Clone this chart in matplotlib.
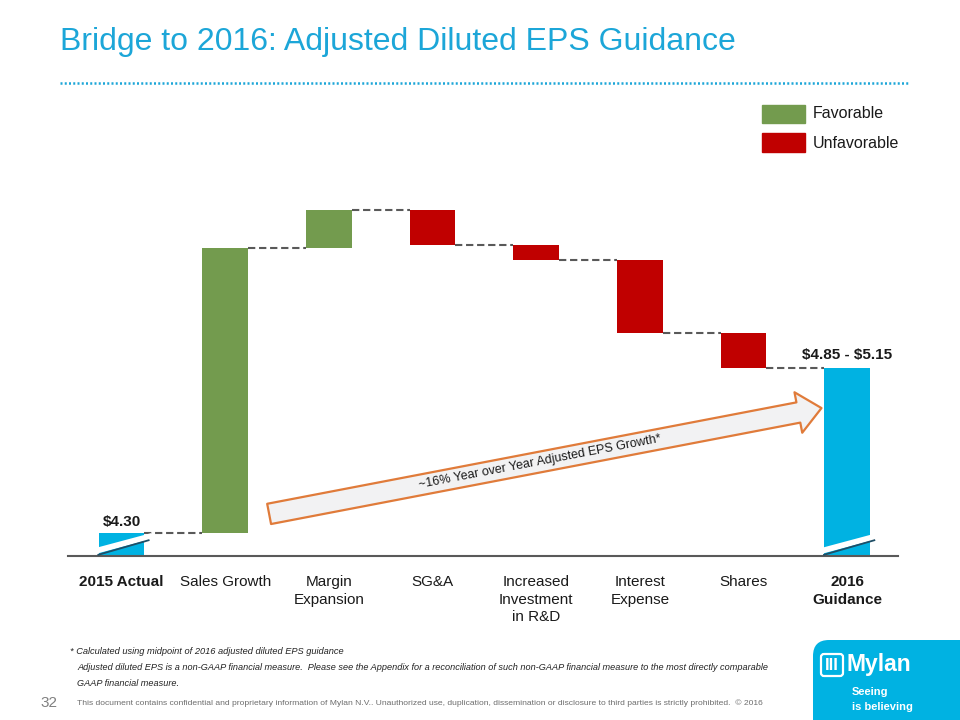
import numpy as np
import matplotlib
matplotlib.use("Agg")
import matplotlib.pyplot as plt
from matplotlib.patches import Rectangle, FancyBboxPatch, Polygon

plt.rcParams['font.family'] = ['Liberation Sans', 'DejaVu Sans']

# datos del puente
categorias = ["2015 Actual", "Sales Growth", "Margin\nExpansion", "SG&A",
              "Increased\nInvestment\nin R&D", "Interest\nExpense", "Shares",
              "2016\nGuidance"]
eps_2015 = 4.30
cambios = [1.21, 0.16, -0.15, -0.06, -0.31, -0.15]
guia_baja = 4.85
guia_alta = 5.15
etiqueta_inicio = "$4.30"
etiqueta_fin = "$4.85 - $5.15"
texto_flecha = "~16% Year over Year Adjusted EPS Growth*"
leyenda = ["Favorable", "Unfavorable"]

CIAN = "#00B2E2"
VERDE = "#739B4E"
ROJO = "#C00000"
GRIS = "#595959"
CIAN_TITULO = "#1CA6D8"
NARANJA = "#E07B3A"

eps_2016 = (guia_baja + guia_alta) / 2
niveles = eps_2015 + np.concatenate([[0], np.cumsum(cambios)])

fig = plt.figure(figsize=(9.6, 7.2), dpi=100)
ax = fig.add_axes([68/960, 164/720, 830/960, 376/720])
ymin, ymax = 4.2024, 5.7976
ax.set_ylim(ymin, ymax)
ax.set_xlim(-0.516, 7.49)

x = np.arange(len(categorias))
ancho = 0.44

ax.bar(0, eps_2015, ancho, color=CIAN, zorder=2)
for i, c in enumerate(cambios):
    ax.bar(i + 1, c, ancho, bottom=niveles[i], color=VERDE if c > 0 else ROJO, zorder=2)
ax.bar(7, eps_2016, ancho, color=CIAN, zorder=2)

# conectores punteados
for k, nivel in enumerate(niveles):
    ax.plot([k + ancho/2, k + 1 - ancho/2], [nivel, nivel], color=GRIS,
            lw=1.5, ls=(0, (3.5, 1.8)), zorder=1)

# cortes del eje en las barras de los extremos
py = (ymax - ymin) / 376
px = (7.49 + 0.516) / 830
for i in (0, 7):
    x0, x1 = i - 24*px, i + 28*px
    y0, y1 = ymin + 1*py, ymin + 16*py
    banda = Polygon([(x0 - 2*px, y0 + 1*py), (x1 + 2*px, y1 + 1*py),
                     (x1 + 2*px, y1 + 7*py), (x0 - 2*px, y0 + 7*py)],
                    closed=True, fc="white", ec="none", zorder=3, clip_on=False)
    ax.add_patch(banda)
    ax.plot([x0, x1], [y0, y1], color="#1f4e66", lw=1.3, zorder=4,
            solid_capstyle="butt", clip_on=False)

for s in ["top", "right", "left"]:
    ax.spines[s].set_visible(False)
ax.spines["bottom"].set_color(GRIS)
ax.spines["bottom"].set_linewidth(1.5)
ax.set_yticks([])
ax.set_xticks(x, categorias)
ax.tick_params(axis="x", length=0, pad=14, labelsize=11, labelcolor="#1a1a1a")
for t in ax.get_xticklabels():
    t.set_linespacing(1.28)
ax.get_xticklabels()[0].set_fontweight("bold")
ax.get_xticklabels()[-1].set_fontweight("bold")

ax.text(0, eps_2015 + 4*py, etiqueta_inicio, ha="center", va="bottom",
        fontsize=11, fontweight="bold", color="#1a1a1a", parse_math=False)
ax.text(7, eps_2016 + 6*py, etiqueta_fin, ha="center", va="bottom",
        fontsize=11, fontweight="bold", color="#1a1a1a", parse_math=False)

# flecha de crecimiento
cola = (1.424, 4.381)
punta = (6.752, 4.830)
ax.annotate("", xy=punta, xytext=cola,
            arrowprops=dict(arrowstyle="simple,head_length=1.6,head_width=2.8,tail_width=1.4",
                            mutation_scale=10.6, fc="#F2F2F3", ec=NARANJA, lw=1.6,
                            shrinkA=0, shrinkB=0), zorder=5)
p1 = ax.transData.transform(cola)
p2 = ax.transData.transform(punta)
angulo = np.degrees(np.arctan2(p2[1] - p1[1], p2[0] - p1[0]))
tm = 0.49
ax.text(cola[0] + tm*(punta[0] - cola[0]), cola[1] + tm*(punta[1] - cola[1]),
        texto_flecha, rotation=angulo, rotation_mode="anchor", ha="center",
        va="center", fontsize=9, color="#1a1a1a", zorder=6)

# capa decorativa en pixeles
deco = fig.add_axes([0, 0, 1, 1])
deco.set_xlim(0, 960)
deco.set_ylim(720, 0)
deco.axis("off")

fig.text(60/960, 1 - 42/720, "Bridge to 2016: Adjusted Diluted EPS Guidance",
         fontsize=23, color=CIAN_TITULO, va="center", ha="left")
deco.plot([60, 908], [83, 83], color=CIAN_TITULO, lw=1.8, ls=(0, (0.8, 0.9)))

deco.add_patch(Rectangle((762, 105), 43, 18, color=VERDE))
deco.add_patch(Rectangle((762, 133), 43, 19, color=ROJO))
deco.text(813, 114, leyenda[0], fontsize=11.5, va="center", color="#1a1a1a")
deco.text(813, 143, leyenda[1], fontsize=11.5, va="center", color="#1a1a1a")

# pie de pagina
deco.text(70, 651, "* Calculated using midpoint of 2016 adjusted diluted EPS guidance",
          fontsize=6.7, style="italic", va="center", color="#222222")
deco.text(77, 668, "Adjusted diluted EPS is a non-GAAP financial measure.  Please see the Appendix "
          "for a reconciliation of such non-GAAP financial measure to the most directly comparable",
          fontsize=6.6, style="italic", va="center", color="#222222")
deco.text(77, 684, "GAAP financial measure.", fontsize=6.6, style="italic",
          va="center", color="#222222")
deco.text(40, 703, "32", fontsize=11, va="center", color="#808080")
deco.text(77, 703, "This document contains confidential and proprietary information of Mylan N.V.. "
          "Unauthorized use, duplication, dissemination or disclosure to third parties is strictly "
          "prohibited.  \u00a9 2016", fontsize=6.1, va="center", color="#6d6d6d")

# logo
deco.add_patch(FancyBboxPatch((813, 640), 180, 110, boxstyle="round,pad=0,rounding_size=16",
                              fc=CIAN, ec="none"))
deco.add_patch(FancyBboxPatch((821, 654), 22, 22, boxstyle="round,pad=0,rounding_size=3",
                              fc="none", ec="white", lw=1.6))
deco.text(832, 665.5, "III", fontsize=12, fontweight="bold", color="white",
          ha="center", va="center")
deco.text(847, 665, "Mylan", fontsize=16.5, fontweight="bold", color="white",
          ha="left", va="center")
deco.text(852, 692, "Seeing", fontsize=8, fontweight="bold", color="white", va="center")
deco.text(852, 707, "is believing", fontsize=8, fontweight="bold", color="white", va="center")

fig.savefig("out.png", dpi=100)
